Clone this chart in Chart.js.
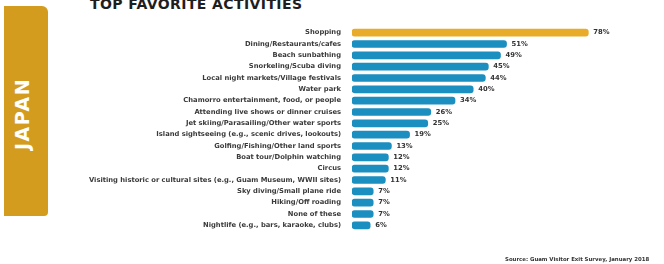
<!DOCTYPE html>
<html>
<head>
<meta charset="utf-8">
<script src="https://cdn.jsdelivr.net/npm/chart.js@4/dist/chart.umd.min.js"></script>
<style>
  html, body { margin: 0; padding: 0; background: #fff; }
  #wrap { position: relative; width: 664px; height: 264px; overflow: hidden; }
  #chart { position: absolute; left: 0; top: 0; }
  #tab {
    position: absolute; left: 4px; top: 6px; width: 44px; height: 210px;
    background: #d39c1f; border-radius: 0 6px 4px 0;
  }
  #tabText {
    position: absolute; left: 22px; top: 114px;
    transform: translate(-50%, -50%) rotate(-90deg);
    color: #fff; font: bold 19px "DejaVu Sans", sans-serif; letter-spacing: 1.5px;
    white-space: nowrap;
  }
  #title {
    position: absolute; left: 90px; top: -4px;
    font: bold 14px "DejaVu Sans", sans-serif; letter-spacing: 0.4px; color: #1e1e1e;
    white-space: nowrap;
  }
  #source {
    position: absolute; left: 505px; top: 256px;
    font: bold 5.4px "DejaVu Sans", sans-serif; color: #333; white-space: nowrap;
  }
</style>
</head>
<body>
<div id="wrap">
  <div id="tab"></div>
  <div id="tabText">JAPAN</div>
  <div id="title">TOP FAVORITE ACTIVITIES</div>
  <canvas id="chart" width="664" height="264"></canvas>
  <div id="source">Source: Guam Visitor Exit Survey, January 2018</div>
</div>
<script>
const activities = [
    "Shopping",
    "Dining/Restaurants/cafes",
    "Beach sunbathing",
    "Snorkeling/Scuba diving",
    "Local night markets/Village festivals",
    "Water park",
    "Chamorro entertainment, food, or people",
    "Attending live shows or dinner cruises",
    "Jet skiing/Parasailing/Other water sports",
    "Island sightseeing (e.g., scenic drives, lookouts)",
    "Golfing/Fishing/Other land sports",
    "Boat tour/Dolphin watching",
    "Circus",
    "Visiting historic or cultural sites (e.g., Guam Museum, WWII sites)",
    "Sky diving/Small plane ride",
    "Hiking/Off roading",
    "None of these",
    "Nightlife (e.g., bars, karaoke, clubs)",
];
const shares = [78, 51, 49, 45, 44, 40, 34, 26, 25, 19, 13, 12, 12, 11, 7, 7, 7, 6];

// first bar is highlighted in gold, the rest are blue
const barColors = shares.map((v, i) => (i === 0 ? "#e8ac2a" : "#1b8fbf"));

// draw the "NN%" labels after each bar
const valueLabels = {
    id: "valueLabels",
    afterDatasetsDraw(chart) {
        const ctx = chart.ctx;
        const meta = chart.getDatasetMeta(0);
        ctx.save();
        ctx.font = "bold 6.8px 'DejaVu Sans', sans-serif";
        ctx.fillStyle = "#333";
        ctx.textAlign = "left";
        ctx.textBaseline = "middle";
        meta.data.forEach((bar, i) => {
            ctx.fillText(shares[i] + "%", bar.x + 5, bar.y);
        });
        ctx.restore();
    },
};

const ctx = document.getElementById("chart").getContext("2d");
new Chart(ctx, {
    type: "bar",
    data: {
        labels: activities,
        datasets: [
            {
                data: shares,
                backgroundColor: barColors,
                barThickness: 7,
                borderRadius: 3,
                borderSkipped: false,
            },
        ],
    },
    options: {
        indexAxis: "y",
        responsive: false,
        animation: false,
        layout: { padding: { top: 27, bottom: 33, right: 9, left: 0 } },
        plugins: { legend: { display: false }, tooltip: { enabled: false } },
        scales: {
            x: { display: false, min: 0, max: 100 },
            y: {
                grid: { display: false, drawTicks: false },
                border: { display: false },
                afterFit: (scale) => { scale.width = 352; },
                ticks: {
                    autoSkip: false,
                    padding: 11,
                    color: "#3a3a3a",
                    font: { family: "'DejaVu Sans', sans-serif", size: 6.75, weight: "bold" },
                },
            },
        },
    },
    plugins: [valueLabels],
});
</script>
</body>
</html>
